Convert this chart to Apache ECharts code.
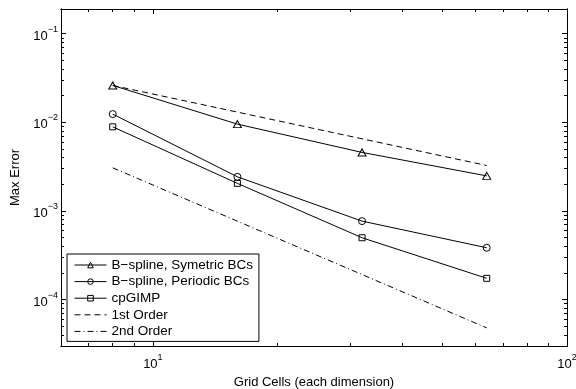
<!DOCTYPE html>
<html>
<head>
<meta charset="utf-8">
<script src="https://cdn.jsdelivr.net/npm/echarts@6/dist/echarts.min.js"></script>
<style>
  html, body { margin: 0; padding: 0; background: #fff; }
  #chart { width: 576px; height: 389px; }
</style>
</head>
<body>
<div id="chart"></div>
<script>
// Grid resolution (cells per dimension)
const gridCells = [8, 16, 32, 64];

// Maximum error for each method
const bsplineSymmetric = [0.0261, 0.00955, 0.00458, 0.00249];
const bsplinePeriodic = [0.0124, 0.00243, 0.000769, 0.000385];
const cpGIMP = [0.0089, 0.00205, 0.000499, 0.000174];

// Reference slopes (drawn at the first and last grid sizes)
const refCells = [8, 64];
const firstOrder = [0.0261, 0.00326];
const secondOrder = [0.00307, 0.000048];

// Axis ticks
const xMajorTicks = [10, 100];
const xMinorTicks = [6, 7, 8, 9, 20, 30, 40, 50, 60, 70, 80, 90];
const yMajorTicks = [1e-4, 1e-3, 1e-2, 1e-1];
const yMinorTicks = [3e-5, 4e-5, 5e-5, 6e-5, 7e-5, 8e-5, 9e-5,
  2e-4, 3e-4, 4e-4, 5e-4, 6e-4, 7e-4, 8e-4, 9e-4,
  2e-3, 3e-3, 4e-3, 5e-3, 6e-3, 7e-3, 8e-3, 9e-3,
  2e-2, 3e-2, 4e-2, 5e-2, 6e-2, 7e-2, 8e-2, 9e-2];

const seriesNames = ['B\u2212spline, Symetric BCs', 'B\u2212spline, Periodic BCs', 'cpGIMP', '1st Order', '2nd Order'];

const FONT = '"Liberation Sans", Arial, Helvetica, sans-serif';
const X_RANGE = [6, 100];
const Y_RANGE = [3e-5, 0.19];

function powerLabel(v) {
  const e = Math.round(Math.log10(v));
  const s = e < 0 ? '\u2212' + (-e) : String(e);
  return '{b|10}{e|' + s + '}';
}

const labelRich = {
  b: { fontSize: 13, fontFamily: FONT, color: '#000', lineHeight: 18, verticalAlign: 'bottom' },
  e: { fontSize: 9, fontFamily: FONT, color: '#000', lineHeight: 18, verticalAlign: 'top' }
};

function logAxis(dim, position, ticks, tickLen, withLabels) {
  const ax = {
    type: 'log',
    logBase: 10,
    position: position,
    min: dim === 'x' ? X_RANGE[0] : Y_RANGE[0],
    max: dim === 'x' ? X_RANGE[1] : Y_RANGE[1],
    axisLine: { show: true, onZero: false, lineStyle: { color: '#000', width: 1 } },
    axisTick: { show: true, inside: true, length: tickLen, customValues: ticks,
      lineStyle: { color: '#000', width: 1 } },
    splitLine: { show: false },
    minorTick: { show: false },
    minorSplitLine: { show: false },
    axisLabel: { show: false }
  };
  if (withLabels) {
    ax.axisLabel = {
      show: true,
      customValues: ticks,
      formatter: powerLabel,
      rich: labelRich,
      margin: dim === 'x' ? 7 : 3,
      showMinLabel: true,
      showMaxLabel: true
    };
  }
  return ax;
}

const xBottom = logAxis('x', 'bottom', xMajorTicks, 5, true);
xBottom.name = 'Grid Cells (each dimension)';
xBottom.nameLocation = 'middle';
xBottom.nameGap = 22;
xBottom.nameTextStyle = { fontSize: 13, fontFamily: FONT, color: '#000' };

const yLeft = logAxis('y', 'left', yMajorTicks, 5, true);
yLeft.name = 'Max Error';
yLeft.nameLocation = 'middle';
yLeft.nameGap = 31;
yLeft.nameTextStyle = { fontSize: 13, fontFamily: FONT, color: '#000' };

const markerStyle = { color: 'transparent', borderColor: '#000', borderWidth: 1 };
const solidLine = { color: '#000', width: 1, type: 'solid' };

function pairs(xs, ys) {
  return xs.map((x, i) => [x, ys[i]]);
}

// Legend entries: the reference-slope lines show no marker
const legendData = seriesNames.map((name, i) => i < 3
  ? { name: name }
  : { name: name, itemStyle: { color: 'transparent', borderColor: 'transparent', borderWidth: 0 } });

const option = {
  animation: false,
  backgroundColor: '#fff',
  textStyle: { fontFamily: FONT },
  grid: { left: 61, right: 9, top: 9, bottom: 43, containLabel: false, outerBoundsMode: 'none' },
  xAxis: [
    xBottom,
    logAxis('x', 'bottom', xMinorTicks, 3, false),
    logAxis('x', 'top', xMajorTicks, 5, false),
    logAxis('x', 'top', xMinorTicks, 3, false)
  ],
  yAxis: [
    yLeft,
    logAxis('y', 'left', yMinorTicks, 3, false),
    logAxis('y', 'right', yMajorTicks, 5, false),
    logAxis('y', 'right', yMinorTicks, 3, false)
  ],
  legend: {
    orient: 'vertical',
    left: 67,
    top: 254,
    itemWidth: 32,
    itemHeight: 7,
    itemGap: 2.6,
    padding: [4, 6, 3, 7],
    backgroundColor: '#fff',
    borderColor: '#000',
    borderWidth: 1,
    borderRadius: 0,
    lineStyle: { width: 1 },
    itemStyle: { borderWidth: 1 },
    textStyle: { fontSize: 13.5, fontFamily: FONT, color: '#000', lineHeight: 14 },
    data: legendData
  },
  series: [
    {
      name: seriesNames[0], type: 'line', xAxisIndex: 0, yAxisIndex: 0,
      data: pairs(gridCells, bsplineSymmetric),
      symbol: 'triangle', symbolSize: [8, 7], showAllSymbol: true,
      itemStyle: markerStyle, lineStyle: solidLine, z: 3
    },
    {
      name: seriesNames[1], type: 'line', xAxisIndex: 0, yAxisIndex: 0,
      data: pairs(gridCells, bsplinePeriodic),
      symbol: 'circle', symbolSize: 7,
      itemStyle: markerStyle, lineStyle: solidLine, z: 3
    },
    {
      name: seriesNames[2], type: 'line', xAxisIndex: 0, yAxisIndex: 0,
      data: pairs(gridCells, cpGIMP),
      symbol: 'rect', symbolSize: 6,
      itemStyle: markerStyle, lineStyle: solidLine, z: 3
    },
    {
      name: seriesNames[3], type: 'line', xAxisIndex: 0, yAxisIndex: 0,
      data: pairs(refCells, firstOrder),
      symbol: 'none',
      itemStyle: { color: '#000' },
      lineStyle: { color: '#000', width: 1, type: [6, 4] }, z: 2
    },
    {
      name: seriesNames[4], type: 'line', xAxisIndex: 0, yAxisIndex: 0,
      data: pairs(refCells, secondOrder),
      symbol: 'none',
      itemStyle: { color: '#000' },
      lineStyle: { color: '#000', width: 1, type: [6, 3, 1, 3] }, z: 2
    }
  ]
};

const chart = echarts.init(document.getElementById('chart'), null, { renderer: 'canvas' });
chart.setOption(option);
</script>
</body>
</html>
